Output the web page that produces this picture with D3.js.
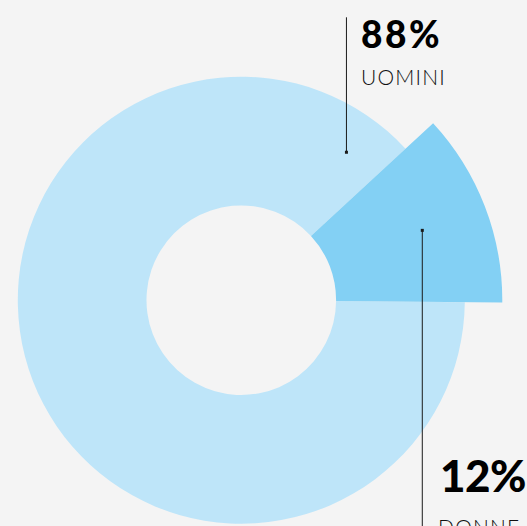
<!DOCTYPE html>
<html>
<head>
<meta charset="utf-8">
<script src="https://cdn.jsdelivr.net/npm/d3@7"></script>
<style>
  html, body { margin: 0; padding: 0; background: #f4f4f4; }
  svg { display: block; }
</style>
</head>
<body>
<div id="chart"></div>
<script>
// data
const categories = ["UOMINI", "DONNE"];
const values = [88, 12];
const labels = ["88%", "12%"];
const colors = ["#bee5f9", "#83d0f4"];

const width = 527, height = 526;
const cx = 241.3, cy = 300.2;
const rInner = 94.8;
const rOuter = [223.5, 261];   // the small slice is pulled out
const startDeg = 90.5;

const svg = d3.select("#chart").append("svg")
    .attr("width", width)
    .attr("height", height);

svg.append("rect")
    .attr("width", width)
    .attr("height", height)
    .attr("fill", "#f4f4f4");

const rad = d => d * Math.PI / 180;

const pie = d3.pie()
    .sort(null)
    .startAngle(rad(startDeg))
    .endAngle(rad(startDeg) + 2 * Math.PI);

const arcs = pie(values);

const g = svg.append("g")
    .attr("transform", `translate(${cx},${cy})`);

g.selectAll("path")
  .data(arcs)
  .join("path")
    .attr("d", (d, i) => d3.arc().innerRadius(rInner).outerRadius(rOuter[i])(d))
    .attr("fill", (d, i) => colors[i]);

// annotation anchors
const labelArc = d3.arc().innerRadius(127).outerRadius(261);
const polar = (deg, r) => [r * Math.sin(rad(deg)), -r * Math.cos(rad(deg))];
const anchors = [
  polar(35.4, 181.5),
  labelArc.centroid(arcs[1])
];

// leader line ends: first goes up, second goes down off the page
const lineEnds = [17.3 - cy, height + 5 - cy];

const ann = g.selectAll("g.ann")
  .data(arcs)
  .join("g")
    .attr("class", "ann");

ann.append("line")
    .attr("x1", (d, i) => anchors[i][0])
    .attr("x2", (d, i) => anchors[i][0])
    .attr("y1", (d, i) => anchors[i][1])
    .attr("y2", (d, i) => lineEnds[i])
    .attr("stroke", "#1a1a1a")
    .attr("stroke-width", 1);

ann.append("rect")
    .attr("x", (d, i) => anchors[i][0] - 1.5)
    .attr("y", (d, i) => anchors[i][1] - 1.5)
    .attr("width", 3)
    .attr("height", 3)
    .attr("fill", "#1a1a1a");

// text blocks
const textPos = [
  { x: 361, yBig: 47.5, ySmall: 85, size: 37, spacing: 2.5 },
  { x: 440, yBig: 491.7, ySmall: 535, size: 44, spacing: -0.5 }
];

ann.append("text")
    .attr("x", (d, i) => textPos[i].x - cx)
    .attr("y", (d, i) => textPos[i].yBig - cy)
    .attr("font-family", "Lato, 'Noto Sans', sans-serif")
    .attr("font-weight", 900)
    .attr("font-size", (d, i) => textPos[i].size)
    .attr("letter-spacing", (d, i) => textPos[i].spacing)
    .attr("fill", "#000")
    .text((d, i) => labels[i]);

ann.append("text")
    .attr("x", (d, i) => textPos[i].x - cx - (i ? 2 : 0))
    .attr("y", (d, i) => textPos[i].ySmall - cy)
    .attr("font-family", "Lato, 'Noto Sans', sans-serif")
    .attr("font-weight", 300)
    .attr("font-size", 21)
    .attr("letter-spacing", 1.2)
    .attr("fill", "#111")
    .text((d, i) => categories[i]);
</script>
</body>
</html>
